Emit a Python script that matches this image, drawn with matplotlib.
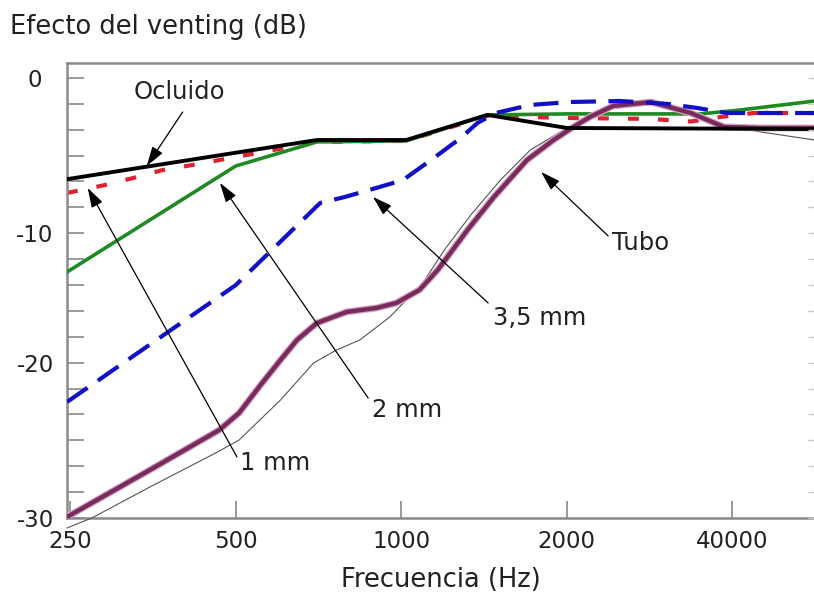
import matplotlib
matplotlib.use("Agg")
import matplotlib.pyplot as plt
import matplotlib.patheffects as pe
import numpy as np

# ---------------- data (x in octave steps from 250 Hz) ----------------
freq_labels = ["250", "500", "1000", "2000", "40000"]
freq_pos = [0, 1, 2, 3, 4]

ocluido_x = [-0.02, 1.49, 2.03, 2.52, 3.00, 4.50]
ocluido_y = [-6.9, -4.23, -4.23, -2.52, -3.41, -3.48]

mm1_x = [-0.02, 0.21, 0.38, 0.56, 0.74, 1.00, 1.49, 2.03, 2.52, 3.00, 3.50, 3.75, 3.93, 4.13, 4.50]
mm1_y = [-7.84, -7.30, -6.82, -6.27, -5.93, -5.39, -4.36, -4.29, -2.59, -2.73, -2.79, -2.97, -2.66, -2.39, -2.39]

mm2_x = [-0.02, 1.00, 1.49, 2.03, 2.52, 3.00, 3.81, 4.05, 4.50]
mm2_y = [-13.23, -6.00, -4.36, -4.29, -2.52, -2.45, -2.45, -2.18, -1.57]

mm35_x = [-0.02, 1.00, 1.51, 1.66, 1.87, 2.01, 2.18, 2.36, 2.46, 2.57, 2.78, 3.02, 3.32, 3.61, 3.79, 3.97, 4.50]
mm35_y = [-22.09, -14.12, -8.52, -8.11, -7.43, -6.96, -5.59, -4.09, -3.07, -2.39, -1.84, -1.64, -1.57, -1.77, -2.05, -2.39, -2.39]

tubo_x = [-0.02, 0.48, 0.90, 1.02, 1.15, 1.27, 1.37, 1.49, 1.67, 1.85, 1.97, 2.11, 2.22, 2.31,
          2.40, 2.56, 2.76, 2.92, 3.04, 3.14, 3.28, 3.51, 3.75, 3.95, 4.17, 4.50]
tubo_y = [-29.93, -26.73, -24.00, -22.84, -20.93, -19.23, -17.86, -16.71, -15.95, -15.68, -15.34, -14.45, -13.09, -11.73,
          -10.36, -8.11, -5.59, -4.23, -3.34, -2.66, -1.91, -1.64, -2.39, -3.34, -3.41, -3.41]

thin_x = [-0.02, 0.13, 0.48, 0.89, 1.02, 1.27, 1.47, 1.61, 1.75, 1.93, 2.03, 2.13, 2.26, 2.42,
          2.60, 2.78, 3.00, 3.20, 3.51, 3.75, 3.95, 4.17, 4.50]
thin_y = [-30.68, -30.0, -27.89, -25.50, -24.68, -21.96, -19.43, -18.54, -17.86, -16.30, -15.14, -13.98, -11.73, -9.34,
          -6.95, -4.91, -3.41, -2.18, -1.64, -2.32, -3.20, -3.68, -4.23]

y_tick_labels = ["0", "-10", "-20", "-30"]
y_label_idx = [0, 6, 11, 17]

# ---------------- figure ----------------
plt.rcParams['font.family'] = ['DejaVu Sans']
W, H = 814, 599
fig = plt.figure(figsize=(W / 100, H / 100), dpi=100)
ax = fig.add_axes([67 / W, (H - 518) / H, (815 - 67) / W, (518 - 63) / H])

ax.set_xlim(-0.02, 4.5)
ax.set_ylim(-30, 1.02)

text_color = "#222222"
spine_color = "#8a8a8a"

ax.plot(mm1_x, mm1_y, color="#dd2233", lw=3, linestyle=(0, (2.6, 4.6)), zorder=2)
ax.plot(mm2_x, mm2_y, color="#1f8a24", lw=2.6, zorder=3)
ax.plot(thin_x, thin_y, color="#555555", lw=0.8, zorder=4, clip_on=False)
ax.plot(tubo_x, tubo_y, color="#7a2b5e", lw=3.2, zorder=5, solid_capstyle="round",
        path_effects=[pe.Stroke(linewidth=5, foreground="#d8a6c4"), pe.Normal()])
ax.plot(ocluido_x, ocluido_y, color="#000000", lw=2.8, zorder=6)
ax.plot(mm35_x, mm35_y, color="#1010c8", lw=3, linestyle=(0, (6, 3)), zorder=7)

# ticks
ytick_pos = np.linspace(0, -30, 18)
ax.set_yticks(ytick_pos)
labels = [""] * 18
for lab, i in zip(y_tick_labels, y_label_idx):
    labels[i] = lab
ax.set_yticklabels(labels)
for t in ax.get_yticklabels():
    t.set_horizontalalignment("center")
ax.set_xticks(freq_pos)
ax.set_xticklabels(freq_labels)
ax.tick_params(axis="y", direction="in", length=12, width=1.2, color=spine_color,
               labelsize=16.5, labelcolor=text_color, pad=23)
ax.tick_params(axis="x", direction="in", length=12, width=1.2, color=spine_color,
               labelsize=16.5, labelcolor=text_color, pad=9)

for s in ["left", "bottom", "top"]:
    ax.spines[s].set_color(spine_color)
    ax.spines[s].set_linewidth(1.8)
ax.spines["right"].set_visible(False)

# faint right-hand ticks
axr = ax.twinx()
axr.set_ylim(ax.get_ylim())
axr.set_yticks(ytick_pos)
axr.set_yticklabels([])
axr.tick_params(axis="y", direction="in", length=5, width=1.0, color="#c8c8c8")
for s in axr.spines.values():
    s.set_visible(False)

ax.set_xlabel("Frecuencia (Hz)", fontsize=18.5, color=text_color, labelpad=10)
fig.text(10 / W, 1 - 27 / H, "Efecto del venting (dB)", fontsize=18.5, color=text_color,
         ha="left", va="center")

# annotations
arrow_kw = dict(arrowstyle="-|>,head_length=0.8,head_width=0.25", color="black", lw=0.9,
                shrinkA=0, shrinkB=0, mutation_scale=15)
ann = [
    ("Ocluido", (0.661, -0.95), "center", (0.679, -2.32), (0.462, -6.0)),
    ("1 mm", (1.024, -26.25), "left", (1.007, -25.84), (0.105, -7.5)),
    ("2 mm", (1.823, -22.64), "left", (1.80, -21.82), (0.904, -7.16)),
    ("3,5 mm", (2.555, -16.36), "left", (2.525, -15.34), (1.829, -8.11)),
    ("Tubo", (3.275, -11.25), "left", (3.25, -10.77), (2.845, -6.41)),
]
for txt, tpos, ha, tail, tip in ann:
    ax.text(tpos[0], tpos[1], txt, fontsize=17.5, color=text_color, ha=ha, va="center", zorder=10)
    ax.annotate("", xy=tip, xytext=tail, arrowprops=arrow_kw, zorder=9)

fig.savefig("out.png", dpi=100)
